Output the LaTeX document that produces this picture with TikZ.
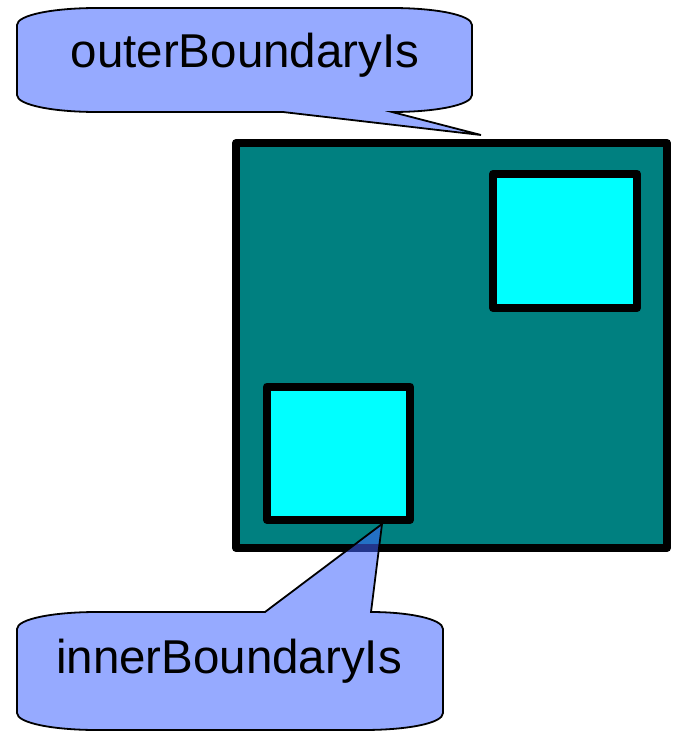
\documentclass[tikz,border=0pt]{standalone}
\usepackage{fontspec}
\setmainfont{Liberation Sans}
\definecolor{polyteal}{RGB}{0,128,128}
\definecolor{holecyan}{RGB}{0,255,255}
\definecolor{calloutblue}{RGB}{64,100,255}
\begin{document}
\begin{tikzpicture}[x=1pt,y=-1pt,
  ring/.style={draw=black, line width=8pt, line join=round, inner sep=0pt, outer sep=0pt},
  bubble/.style={draw=black, line width=1.8pt, line join=miter, fill=calloutblue, fill opacity=0.55},
  label/.style={inner sep=0pt, anchor=base, font=\fontsize{47.5}{50}\selectfont}]
\useasboundingbox (0,0) rectangle (673,731);

% polygon with its outer boundary and two holes
\node[ring, fill=polyteal, minimum width=431pt, minimum height=405pt] (outer) at (451.5,345.5) {};
\node[ring, fill=holecyan, minimum width=144pt, minimum height=134pt] (holeA) at (565,241) {};
\node[ring, fill=holecyan, minimum width=143pt, minimum height=133.5pt] (holeB) at (338.5,453.25) {};

% tips of the two callouts
\coordinate (tipOuter) at (481,135);
\coordinate (tipInner) at (382,524);

% upper callout, pointing at the outer boundary
\draw[bubble] (17,25) .. controls (17,15) and (53,8) .. (97,8) -- (392,8)
  .. controls (436,8) and (472,15) .. (472,25) -- (472,95)
  .. controls (472,105) and (436,112) .. (392,112) -- (tipOuter)
  -- (283,112) -- (97,112) .. controls (53,112) and (17,105) .. (17,95) -- cycle;
\node[label] (outerText) at (245,67) {outerBoundaryIs};

% lower callout, pointing at an inner boundary
\draw[bubble] (17,629) .. controls (17,619) and (53,612) .. (97,612) -- (265,612) -- (tipInner)
  -- (371,612) .. controls (409,612) and (443,619) .. (443,629) -- (443,713)
  .. controls (443,723) and (409,730) .. (363,730) -- (97,730)
  .. controls (53,730) and (17,723) .. (17,713) -- cycle;
\node[label] (innerText) at (229,673) {innerBoundaryIs};
\end{tikzpicture}
\end{document}
